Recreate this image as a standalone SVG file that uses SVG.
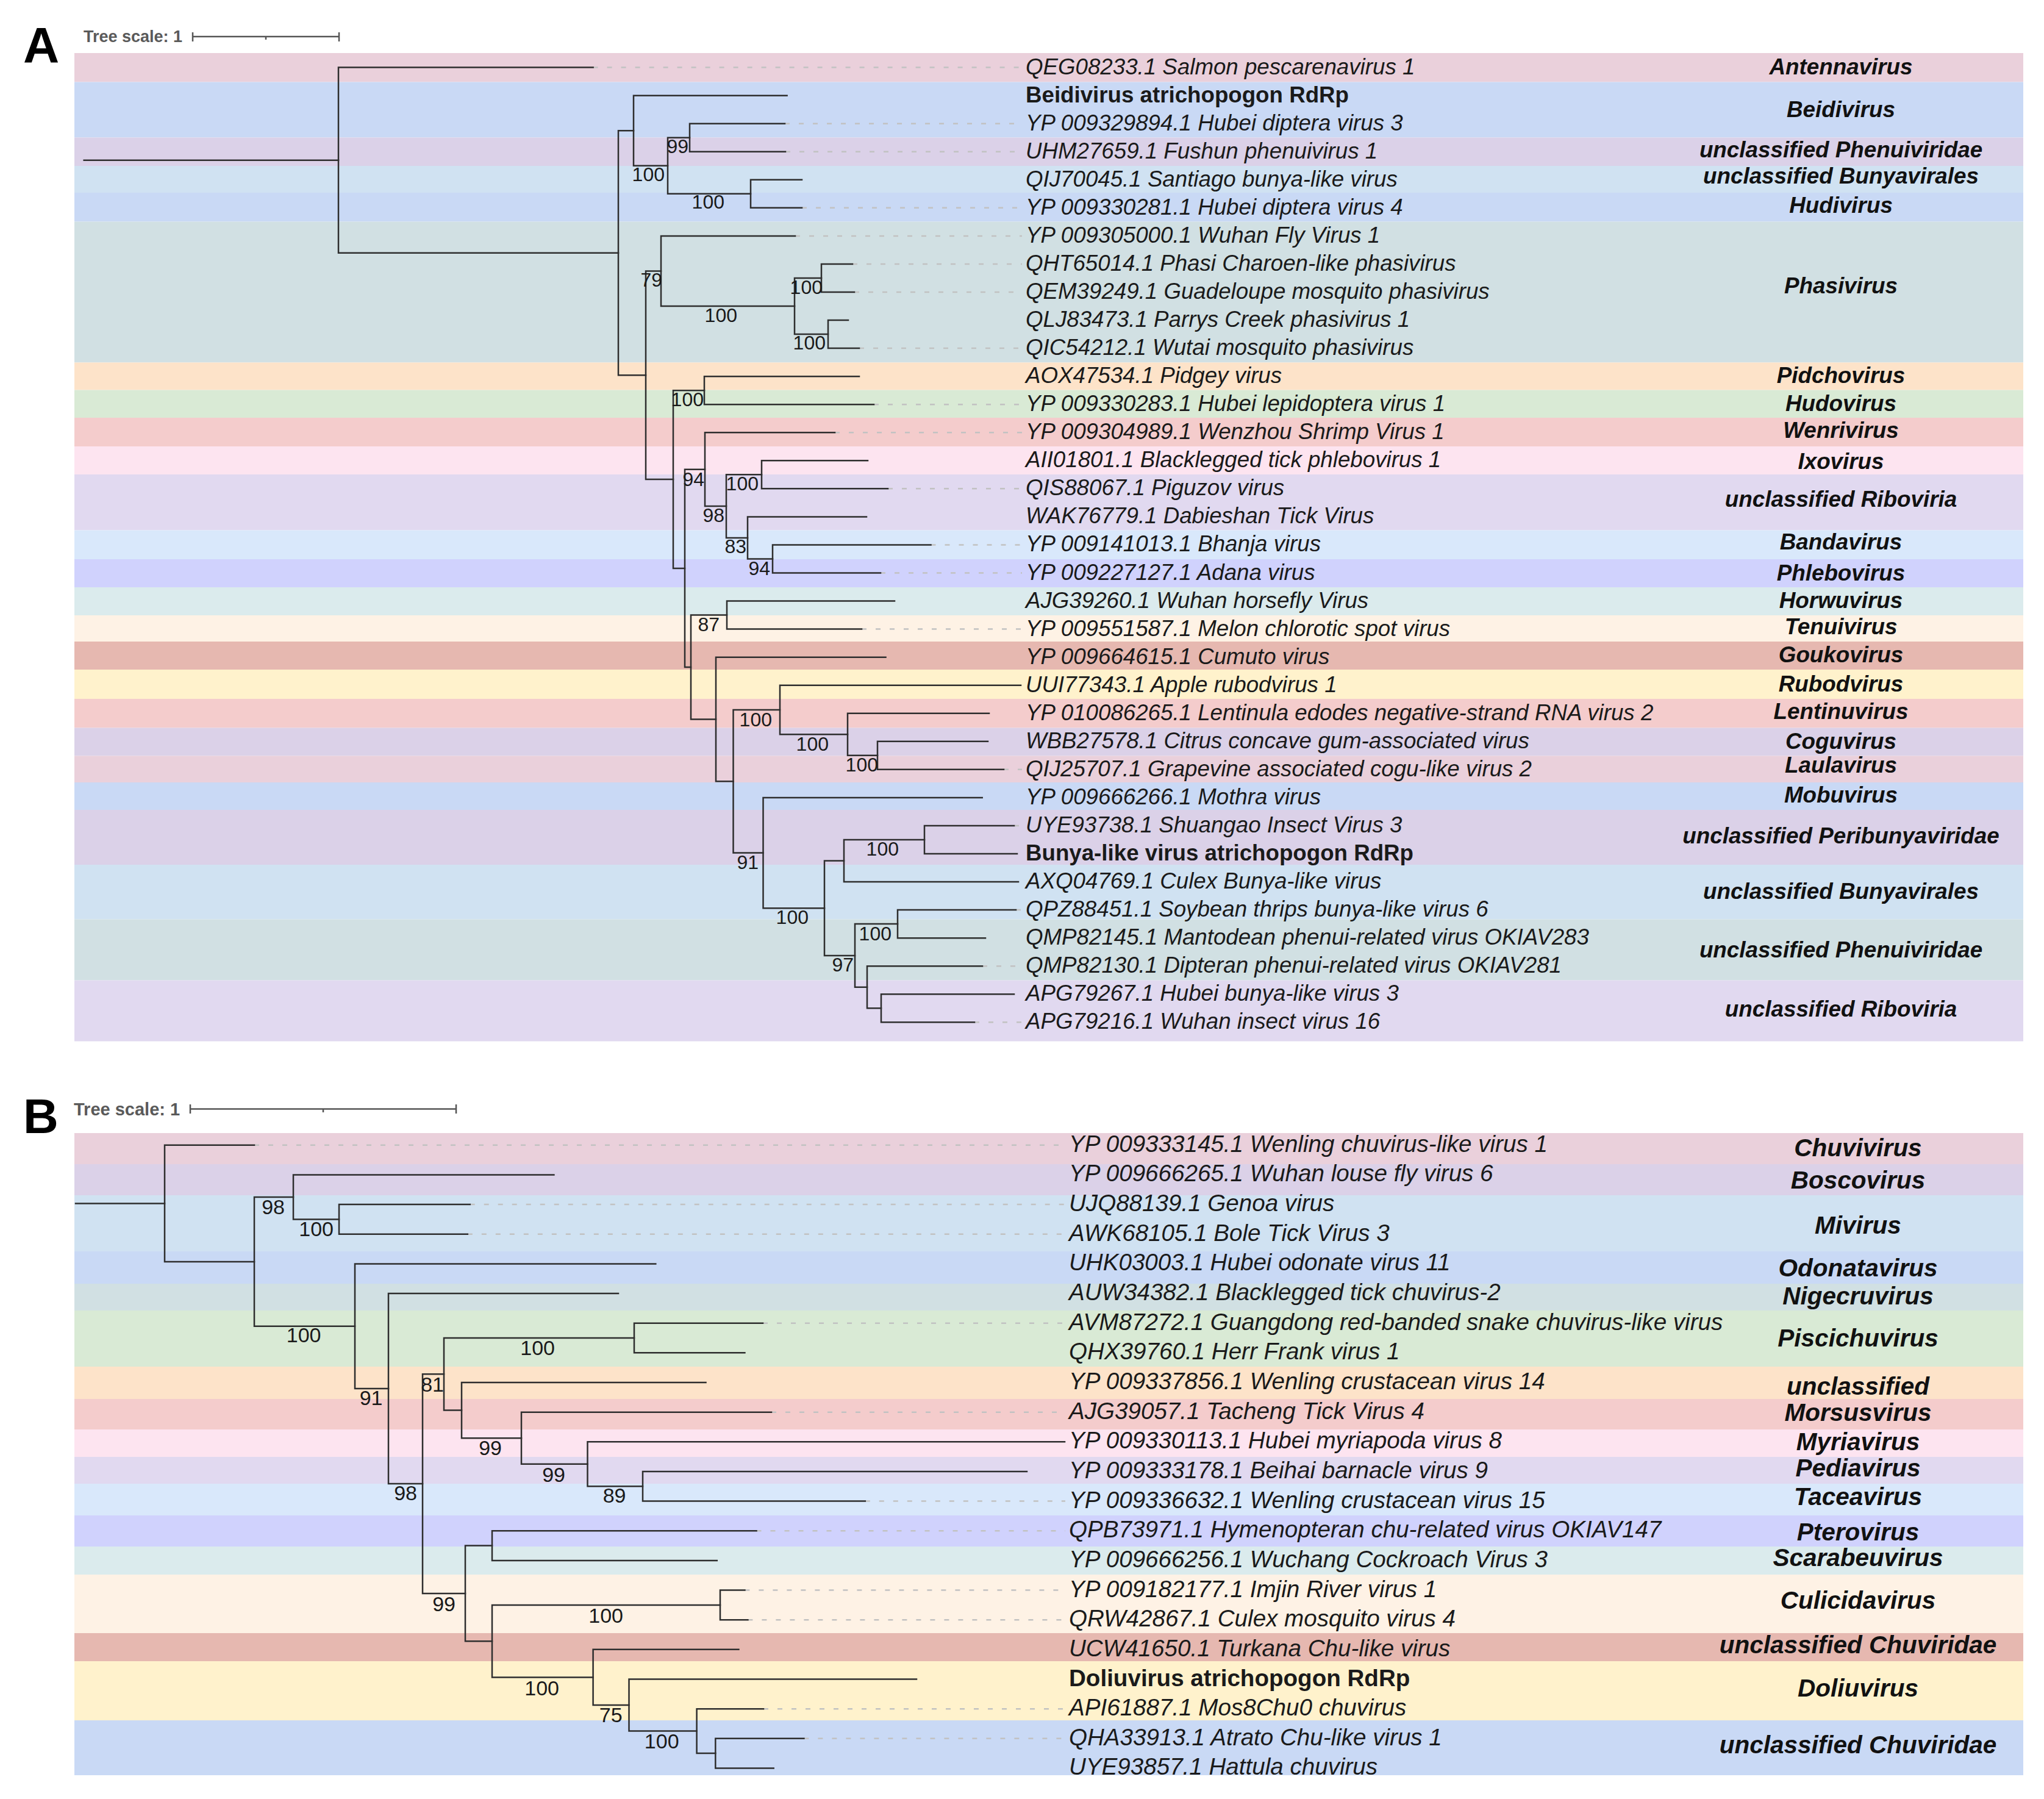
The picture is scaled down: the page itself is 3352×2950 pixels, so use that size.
<svg xmlns="http://www.w3.org/2000/svg" width="3352" height="2950" viewBox="0 0 3352 2950">
<style>
text{font-family:"Liberation Sans",Arial,sans-serif}
.pl{font-weight:bold;fill:#000}
.ts{font-weight:bold;fill:#5a5a5a}
.sb{stroke:#555;stroke-width:2.5;fill:none}
.la{font-style:italic;font-size:36.7px;fill:#1a1a1a}
.lb{font-style:italic;font-size:38.6px;fill:#1a1a1a}
.bd{font-style:normal;font-weight:bold}
.ca{font-style:italic;font-weight:bold;font-size:36.8px;text-anchor:middle;fill:#111}
.cb{font-style:italic;font-weight:bold;font-size:40.5px;text-anchor:middle;fill:#111}
.ba{font-size:32px;text-anchor:end;fill:#1a1a1a}
.bb{font-size:34px;text-anchor:end;fill:#1a1a1a}
.br{stroke:#2e2e2e;stroke-width:2.5;fill:none;stroke-linecap:square}
.ds{stroke:#c2c2c2;stroke-width:2.5;fill:none;stroke-dasharray:8 15}
.pk{fill:#ead0db}.bl{fill:#c9d9f5}.lv{fill:#dbd1e8}.sk{fill:#d0e2f2}.gt{fill:#d1e0e3}.pc{fill:#fde3c9}.gr{fill:#d9ead5}.rs{fill:#f4cccc}.lp{fill:#fde4f0}.lr{fill:#e1d9f0}.lt{fill:#d9e8fb}.pw{fill:#d0d2fd}.tl{fill:#dbebed}.cr{fill:#fef2e5}.sa{fill:#e6b8b0}.yl{fill:#fff2cc}
</style>
<rect width="3352" height="2950" fill="#fff"/>

<!-- ================= PANEL A ================= -->
<g id="A-header">
<text class="pl" x="38" y="102" font-size="82">A</text>
<text class="ts" x="137" y="69" font-size="27">Tree scale: 1</text>
<path class="sb" d="M316,60 H556 M316,53 V68 M556,53 V68 M436,60 V65"/>
</g>
<g id="A-bands">
<rect class="pk" x="122" y="87" width="3196" height="47.5"/>
<rect class="bl" x="122" y="134.5" width="3196" height="91"/>
<rect class="lv" x="122" y="225.5" width="3196" height="46.5"/>
<rect class="sk" x="122" y="272" width="3196" height="44"/>
<rect class="bl" x="122" y="316" width="3196" height="47.5"/>
<rect class="gt" x="122" y="363.5" width="3196" height="231"/>
<rect class="pc" x="122" y="594.5" width="3196" height="45"/>
<rect class="gr" x="122" y="639.5" width="3196" height="45.5"/>
<rect class="rs" x="122" y="685" width="3196" height="47"/>
<rect class="lp" x="122" y="732" width="3196" height="46"/>
<rect class="lr" x="122" y="778" width="3196" height="91.5"/>
<rect class="lt" x="122" y="869.5" width="3196" height="47.5"/>
<rect class="pw" x="122" y="917" width="3196" height="46"/>
<rect class="tl" x="122" y="963" width="3196" height="46"/>
<rect class="cr" x="122" y="1009" width="3196" height="43"/>
<rect class="sa" x="122" y="1052" width="3196" height="46"/>
<rect class="yl" x="122" y="1098" width="3196" height="48"/>
<rect class="rs" x="122" y="1146" width="3196" height="47.5"/>
<rect class="lv" x="122" y="1193.5" width="3196" height="46"/>
<rect class="pk" x="122" y="1239.5" width="3196" height="43.5"/>
<rect class="bl" x="122" y="1283" width="3196" height="45"/>
<rect class="lv" x="122" y="1328" width="3196" height="90"/>
<rect class="sk" x="122" y="1418" width="3196" height="89.5"/>
<rect class="gt" x="122" y="1507.5" width="3196" height="100"/>
<rect class="lr" x="122" y="1607.5" width="3196" height="100"/>
</g>

<g id="A-connectors">
<path class="ds" d="M972.6,110.6 H1676 M1287,202.7 H1676 M1288,248.75 H1676 M1315,340.85 H1676 M1304,386.9 H1676 M1398,432.95 H1676 M1401,479 H1676 M1409,571.1 H1676 M1433,663.2 H1676 M1369,709.25 H1676 M1456,801.35 H1676 M1526.5,893.45 H1676 M1444,939.5 H1676 M1413,1031.6 H1676 M1646,1261.85 H1676 M1663,1353.95 H1676 M1666,1492.1 H1676 M1611,1584.2 H1676 M1598,1676.3 H1676"/>
<g class="br">
<path d="M137.7,262.7 H555"/>
<path d="M555,110.6 V414.7 M555,110.6 H972.6 M555,414.7 H1014"/>
<path d="M1014,214.2 V615.3 M1014,214.2 H1039 M1014,615.3 H1059"/>
<path d="M1039,156.65 V271.8 M1039,156.65 H1290.6 M1039,271.8 H1095"/>
<path d="M1095,225.7 V317.8 M1095,225.7 H1131 M1095,317.8 H1231"/>
<path d="M1131,202.7 V248.75 M1131,202.7 H1287 M1131,248.75 H1288"/>
<path d="M1231,294.8 V340.85 M1231,294.8 H1315 M1231,340.85 H1315"/>
<path d="M1059,444.5 V786 M1059,444.5 H1084 M1059,786 H1104"/>
<path d="M1084,386.9 V502 M1084,386.9 H1304 M1084,502 H1303"/>
<path d="M1303,456 V548.1 M1303,456 H1347 M1303,548.1 H1358"/>
<path d="M1347,432.95 V479 M1347,432.95 H1398 M1347,479 H1401"/>
<path d="M1358,525.05 V571.1 M1358,525.05 H1391 M1358,571.1 H1409"/>
<path d="M1104,640.2 V931.9 M1104,640.2 H1155 M1104,931.9 H1123"/>
<path d="M1155,617.15 V663.2 M1155,617.15 H1409 M1155,663.2 H1433"/>
<path d="M1123,769.7 V1094 M1123,769.7 H1156 M1123,1094 H1133"/>
<path d="M1156,709.25 V830.1 M1156,709.25 H1369 M1156,830.1 H1191"/>
<path d="M1191,778.3 V882 M1191,778.3 H1249 M1191,882 H1226"/>
<path d="M1249,755.3 V801.35 M1249,755.3 H1423 M1249,801.35 H1456"/>
<path d="M1226,847.4 V916.5 M1226,847.4 H1421 M1226,916.5 H1267"/>
<path d="M1267,893.45 V939.5 M1267,893.45 H1526.5 M1267,939.5 H1444"/>
<path d="M1133,1008.6 V1179.5 M1133,1008.6 H1192 M1133,1179.5 H1174"/>
<path d="M1192,985.55 V1031.6 M1192,985.55 H1467 M1192,1031.6 H1413"/>
<path d="M1174,1077.65 V1281.3 M1174,1077.65 H1452.5 M1174,1281.3 H1202.5"/>
<path d="M1202.5,1164 V1398.5 M1202.5,1164 H1279 M1202.5,1398.5 H1251.5"/>
<path d="M1279,1123.7 V1204.3 M1279,1123.7 H1674 M1279,1204.3 H1390"/>
<path d="M1390,1169.75 V1238.8 M1390,1169.75 H1622 M1390,1238.8 H1439"/>
<path d="M1439,1215.8 V1261.85 M1439,1215.8 H1620 M1439,1261.85 H1646"/>
<path d="M1251.5,1307.9 V1489.2 M1251.5,1307.9 H1610.7 M1251.5,1489.2 H1352"/>
<path d="M1352,1411.5 V1566.9 M1352,1411.5 H1384 M1352,1566.9 H1402"/>
<path d="M1384,1377 V1446.05 M1384,1377 H1516 M1384,1446.05 H1670"/>
<path d="M1516,1353.95 V1400 M1516,1353.95 H1663 M1516,1400 H1668"/>
<path d="M1402,1515.1 V1618.7 M1402,1515.1 H1472 M1402,1618.7 H1422"/>
<path d="M1472,1492.1 V1538.15 M1472,1492.1 H1666 M1472,1538.15 H1616"/>
<path d="M1422,1584.2 V1653.3 M1422,1584.2 H1611 M1422,1653.3 H1445"/>
<path d="M1445,1630.25 V1676.3 M1445,1630.25 H1663 M1445,1676.3 H1598"/>
</g>
<g id="A-support">
<text class="ba" x="1129" y="251">99</text>
<text class="ba" x="1090" y="297">100</text>
<text class="ba" x="1188" y="342">100</text>
<text class="ba" x="1086" y="470">79</text>
<text class="ba" x="1209" y="528">100</text>
<text class="ba" x="1349" y="482">100</text>
<text class="ba" x="1354" y="573">100</text>
<text class="ba" x="1154" y="666">100</text>
<text class="ba" x="1155" y="797">94</text>
<text class="ba" x="1188" y="856">98</text>
<text class="ba" x="1244" y="804">100</text>
<text class="ba" x="1224" y="907">83</text>
<text class="ba" x="1263" y="943">94</text>
<text class="ba" x="1180" y="1035">87</text>
<text class="ba" x="1266" y="1191">100</text>
<text class="ba" x="1359" y="1231">100</text>
<text class="ba" x="1440" y="1265">100</text>
<text class="ba" x="1244" y="1425">91</text>
<text class="ba" x="1326" y="1515">100</text>
<text class="ba" x="1474" y="1403">100</text>
<text class="ba" x="1400" y="1593">97</text>
<text class="ba" x="1462" y="1542">100</text>
</g>
</g>

<g id="A-leaves" class="la">
<g id="A-leaf-01"><text x="1682" y="121.6">QEG08233.1 Salmon pescarenavirus 1</text></g>
<g id="A-leaf-02"><text class="bd" x="1682" y="167.65">Beidivirus atrichopogon RdRp</text></g>
<g id="A-leaf-03"><text x="1682" y="213.7">YP 009329894.1 Hubei diptera virus 3</text></g>
<g id="A-leaf-04"><text x="1682" y="259.75">UHM27659.1 Fushun phenuivirus 1</text></g>
<g id="A-leaf-05"><text x="1682" y="305.8">QIJ70045.1 Santiago bunya-like virus</text></g>
<g id="A-leaf-06"><text x="1682" y="351.85">YP 009330281.1 Hubei diptera virus 4</text></g>
<g id="A-leaf-07"><text x="1682" y="397.9">YP 009305000.1 Wuhan Fly Virus 1</text></g>
<g id="A-leaf-08"><text x="1682" y="443.95">QHT65014.1 Phasi Charoen-like phasivirus</text></g>
<g id="A-leaf-09"><text x="1682" y="490">QEM39249.1 Guadeloupe mosquito phasivirus</text></g>
<g id="A-leaf-10"><text x="1682" y="536.05">QLJ83473.1 Parrys Creek phasivirus 1</text></g>
<g id="A-leaf-11"><text x="1682" y="582.1">QIC54212.1 Wutai mosquito phasivirus</text></g>
<g id="A-leaf-12"><text x="1682" y="628.15">AOX47534.1 Pidgey virus</text></g>
<g id="A-leaf-13"><text x="1682" y="674.2">YP 009330283.1 Hubei lepidoptera virus 1</text></g>
<g id="A-leaf-14"><text x="1682" y="720.25">YP 009304989.1 Wenzhou Shrimp Virus 1</text></g>
<g id="A-leaf-15"><text x="1682" y="766.3">AII01801.1 Blacklegged tick phlebovirus 1</text></g>
<g id="A-leaf-16"><text x="1682" y="812.35">QIS88067.1 Piguzov virus</text></g>
<g id="A-leaf-17"><text x="1682" y="858.4">WAK76779.1 Dabieshan Tick Virus</text></g>
<g id="A-leaf-18"><text x="1682" y="904.45">YP 009141013.1 Bhanja virus</text></g>
<g id="A-leaf-19"><text x="1682" y="950.5">YP 009227127.1 Adana virus</text></g>
<g id="A-leaf-20"><text x="1682" y="996.55">AJG39260.1 Wuhan horsefly Virus</text></g>
<g id="A-leaf-21"><text x="1682" y="1042.6">YP 009551587.1 Melon chlorotic spot virus</text></g>
<g id="A-leaf-22"><text x="1682" y="1088.65">YP 009664615.1 Cumuto virus</text></g>
<g id="A-leaf-23"><text x="1682" y="1134.7">UUI77343.1 Apple rubodvirus 1</text></g>
<g id="A-leaf-24"><text x="1682" y="1180.75">YP 010086265.1 Lentinula edodes negative-strand RNA virus 2</text></g>
<g id="A-leaf-25"><text x="1682" y="1226.8">WBB27578.1 Citrus concave gum-associated virus</text></g>
<g id="A-leaf-26"><text x="1682" y="1272.85">QIJ25707.1 Grapevine associated cogu-like virus 2</text></g>
<g id="A-leaf-27"><text x="1682" y="1318.9">YP 009666266.1 Mothra virus</text></g>
<g id="A-leaf-28"><text x="1682" y="1364.95">UYE93738.1 Shuangao Insect Virus 3</text></g>
<g id="A-leaf-29"><text class="bd" x="1682" y="1411">Bunya-like virus atrichopogon RdRp</text></g>
<g id="A-leaf-30"><text x="1682" y="1457.05">AXQ04769.1 Culex Bunya-like virus</text></g>
<g id="A-leaf-31"><text x="1682" y="1503.1">QPZ88451.1 Soybean thrips bunya-like virus 6</text></g>
<g id="A-leaf-32"><text x="1682" y="1549.15">QMP82145.1 Mantodean phenui-related virus OKIAV283</text></g>
<g id="A-leaf-33"><text x="1682" y="1595.2">QMP82130.1 Dipteran phenui-related virus OKIAV281</text></g>
<g id="A-leaf-34"><text x="1682" y="1641.25">APG79267.1 Hubei bunya-like virus 3</text></g>
<g id="A-leaf-35"><text x="1682" y="1687.3">APG79216.1 Wuhan insect virus 16</text></g>
</g>

<g id="A-categories" class="ca">
<g id="A-cat-01"><text x="3019" y="122">Antennavirus</text></g>
<g id="A-cat-02"><text x="3019" y="192">Beidivirus</text></g>
<g id="A-cat-03"><text x="3019" y="258">unclassified Phenuiviridae</text></g>
<g id="A-cat-04"><text x="3019" y="301">unclassified Bunyavirales</text></g>
<g id="A-cat-05"><text x="3019" y="349">Hudivirus</text></g>
<g id="A-cat-06"><text x="3019" y="481">Phasivirus</text></g>
<g id="A-cat-07"><text x="3019" y="628">Pidchovirus</text></g>
<g id="A-cat-08"><text x="3019" y="674">Hudovirus</text></g>
<g id="A-cat-09"><text x="3019" y="718">Wenrivirus</text></g>
<g id="A-cat-10"><text x="3019" y="769">Ixovirus</text></g>
<g id="A-cat-11"><text x="3019" y="831">unclassified Riboviria</text></g>
<g id="A-cat-12"><text x="3019" y="901">Bandavirus</text></g>
<g id="A-cat-13"><text x="3019" y="952">Phlebovirus</text></g>
<g id="A-cat-14"><text x="3019" y="997">Horwuvirus</text></g>
<g id="A-cat-15"><text x="3019" y="1040">Tenuivirus</text></g>
<g id="A-cat-16"><text x="3019" y="1086">Goukovirus</text></g>
<g id="A-cat-17"><text x="3019" y="1134">Rubodvirus</text></g>
<g id="A-cat-18"><text x="3019" y="1179">Lentinuvirus</text></g>
<g id="A-cat-19"><text x="3019" y="1228">Coguvirus</text></g>
<g id="A-cat-20"><text x="3019" y="1267">Laulavirus</text></g>
<g id="A-cat-21"><text x="3019" y="1316">Mobuvirus</text></g>
<g id="A-cat-22"><text x="3019" y="1383">unclassified Peribunyaviridae</text></g>
<g id="A-cat-23"><text x="3019" y="1474">unclassified Bunyavirales</text></g>
<g id="A-cat-24"><text x="3019" y="1570">unclassified Phenuiviridae</text></g>
<g id="A-cat-25"><text x="3019" y="1667">unclassified Riboviria</text></g>
</g>

<!-- ================= PANEL B ================= -->
<g id="B-header">
<text class="pl" x="38" y="1858" font-size="80">B</text>
<text class="ts" x="121" y="1829" font-size="29">Tree scale: 1</text>
<path class="sb" d="M312,1818.5 H748 M312,1811 V1826 M748,1811 V1826 M530,1818.5 V1824"/>
</g>
<g id="B-bands">
<rect class="pk" x="122" y="1858" width="3196" height="51"/>
<rect class="lv" x="122" y="1909" width="3196" height="51"/>
<rect class="sk" x="122" y="1960" width="3196" height="92"/>
<rect class="bl" x="122" y="2052" width="3196" height="53"/>
<rect class="gt" x="122" y="2105" width="3196" height="44"/>
<rect class="gr" x="122" y="2149" width="3196" height="92"/>
<rect class="pc" x="122" y="2241" width="3196" height="53"/>
<rect class="rs" x="122" y="2294" width="3196" height="50"/>
<rect class="lp" x="122" y="2344" width="3196" height="45"/>
<rect class="lr" x="122" y="2389" width="3196" height="44"/>
<rect class="lt" x="122" y="2433" width="3196" height="52"/>
<rect class="pw" x="122" y="2485" width="3196" height="51"/>
<rect class="tl" x="122" y="2536" width="3196" height="46"/>
<rect class="cr" x="122" y="2582" width="3196" height="96"/>
<rect class="sa" x="122" y="2678" width="3196" height="46"/>
<rect class="yl" x="122" y="2724" width="3196" height="97"/>
<rect class="bl" x="122" y="2821" width="3196" height="90"/>
</g>

<g id="B-connectors">
<path class="ds" d="M417,1877.8 H1747 M770.7,1975.1 H1747 M766.8,2023.75 H1747 M1251,2169.7 H1747 M1265,2315.65 H1747 M1418.8,2461.6 H1747 M1240.5,2510.25 H1747 M1221.4,2607.55 H1747 M1226.4,2656.2 H1747 M1252,2802.15 H1747 M1318.4,2850.8 H1747"/>
<g class="br">
<path d="M124,1973.4 H270"/>
<path d="M270,1877.8 V2068.9 M270,1877.8 H417 M270,2068.9 H417"/>
<path d="M417,1962.9 V2174.8 M417,1962.9 H481 M417,2174.8 H582"/>
<path d="M481,1926.45 V1999.4 M481,1926.45 H908.4 M481,1999.4 H556"/>
<path d="M556,1975.1 V2023.75 M556,1975.1 H770.7 M556,2023.75 H766.8"/>
<path d="M582,2072.4 V2277.1 M582,2072.4 H1075.3 M582,2277.1 H637"/>
<path d="M637,2121.05 V2433.1 M637,2121.05 H1014 M637,2433.1 H693"/>
<path d="M693,2253.3 V2612.9 M693,2253.3 H728 M693,2612.9 H763"/>
<path d="M728,2194 V2312.6 M728,2194 H1040 M728,2312.6 H757"/>
<path d="M1040,2169.7 V2218.35 M1040,2169.7 H1251 M1040,2218.35 H1221.4"/>
<path d="M757,2267 V2358.2 M757,2267 H1157.5 M757,2358.2 H855"/>
<path d="M855,2315.65 V2400.8 M855,2315.65 H1265 M855,2400.8 H963.5"/>
<path d="M963.5,2364.3 V2437.3 M963.5,2364.3 H1746 M963.5,2437.3 H1054"/>
<path d="M1054,2412.95 V2461.6 M1054,2412.95 H1684 M1054,2461.6 H1418.8"/>
<path d="M763,2534.6 V2691.2 M763,2534.6 H807 M763,2691.2 H807"/>
<path d="M807,2510.25 V2558.9 M807,2510.25 H1240.5 M807,2558.9 H1175.8"/>
<path d="M807,2631.9 V2750.5 M807,2631.9 H1181 M807,2750.5 H972.6"/>
<path d="M1181,2607.55 V2656.2 M1181,2607.55 H1221.4 M1181,2656.2 H1226.4"/>
<path d="M972.6,2704.85 V2796.1 M972.6,2704.85 H1211.4 M972.6,2796.1 H1031.5"/>
<path d="M1031.5,2753.5 V2838.6 M1031.5,2753.5 H1503 M1031.5,2838.6 H1142.6"/>
<path d="M1142.6,2802.15 V2875.1 M1142.6,2802.15 H1252 M1142.6,2875.1 H1173.3"/>
<path d="M1173.3,2850.8 V2899.45 M1173.3,2850.8 H1318.4 M1173.3,2899.45 H1268.7"/>
</g>
<g id="B-support">
<text class="bb" x="467" y="1991">98</text>
<text class="bb" x="547" y="2027">100</text>
<text class="bb" x="526.5" y="2201">100</text>
<text class="bb" x="627.5" y="2304">91</text>
<text class="bb" x="910" y="2222">100</text>
<text class="bb" x="728" y="2281.6">81</text>
<text class="bb" x="823" y="2386">99</text>
<text class="bb" x="684" y="2460">98</text>
<text class="bb" x="927" y="2429.5">99</text>
<text class="bb" x="1026.5" y="2464">89</text>
<text class="bb" x="747" y="2642">99</text>
<text class="bb" x="1022" y="2661">100</text>
<text class="bb" x="917" y="2780">100</text>
<text class="bb" x="1020.7" y="2823.6">75</text>
<text class="bb" x="1113.6" y="2867">100</text>
</g>
</g>

<g id="B-leaves" class="lb">
<g id="B-leaf-01"><text x="1753" y="1888.8">YP 009333145.1 Wenling chuvirus-like virus 1</text></g>
<g id="B-leaf-02"><text x="1753" y="1937.45">YP 009666265.1 Wuhan louse fly virus 6</text></g>
<g id="B-leaf-03"><text x="1753" y="1986.1">UJQ88139.1 Genoa virus</text></g>
<g id="B-leaf-04"><text x="1753" y="2034.75">AWK68105.1 Bole Tick Virus 3</text></g>
<g id="B-leaf-05"><text x="1753" y="2083.4">UHK03003.1 Hubei odonate virus 11</text></g>
<g id="B-leaf-06"><text x="1753" y="2132.05">AUW34382.1 Blacklegged tick chuvirus-2</text></g>
<g id="B-leaf-07"><text x="1753" y="2180.7">AVM87272.1 Guangdong red-banded snake chuvirus-like virus</text></g>
<g id="B-leaf-08"><text x="1753" y="2229.35">QHX39760.1 Herr Frank virus 1</text></g>
<g id="B-leaf-09"><text x="1753" y="2278">YP 009337856.1 Wenling crustacean virus 14</text></g>
<g id="B-leaf-10"><text x="1753" y="2326.65">AJG39057.1 Tacheng Tick Virus 4</text></g>
<g id="B-leaf-11"><text x="1753" y="2375.3">YP 009330113.1 Hubei myriapoda virus 8</text></g>
<g id="B-leaf-12"><text x="1753" y="2423.95">YP 009333178.1 Beihai barnacle virus 9</text></g>
<g id="B-leaf-13"><text x="1753" y="2472.6">YP 009336632.1 Wenling crustacean virus 15</text></g>
<g id="B-leaf-14"><text x="1753" y="2521.25">QPB73971.1 Hymenopteran chu-related virus OKIAV147</text></g>
<g id="B-leaf-15"><text x="1753" y="2569.9">YP 009666256.1 Wuchang Cockroach Virus 3</text></g>
<g id="B-leaf-16"><text x="1753" y="2618.55">YP 009182177.1 Imjin River virus 1</text></g>
<g id="B-leaf-17"><text x="1753" y="2667.2">QRW42867.1 Culex mosquito virus 4</text></g>
<g id="B-leaf-18"><text x="1753" y="2715.85">UCW41650.1 Turkana Chu-like virus</text></g>
<g id="B-leaf-19"><text class="bd" x="1753" y="2764.5">Doliuvirus atrichopogon RdRp</text></g>
<g id="B-leaf-20"><text x="1753" y="2813.15">API61887.1 Mos8Chu0 chuvirus</text></g>
<g id="B-leaf-21"><text x="1753" y="2861.8">QHA33913.1 Atrato Chu-like virus 1</text></g>
<g id="B-leaf-22"><text x="1753" y="2910.45">UYE93857.1 Hattula chuvirus</text></g>
</g>

<g id="B-categories" class="cb">
<g id="B-cat-01"><text x="3047" y="1896">Chuvivirus</text></g>
<g id="B-cat-02"><text x="3047" y="1949">Boscovirus</text></g>
<g id="B-cat-03"><text x="3047" y="2023">Mivirus</text></g>
<g id="B-cat-04"><text x="3047" y="2093">Odonatavirus</text></g>
<g id="B-cat-05"><text x="3047" y="2139">Nigecruvirus</text></g>
<g id="B-cat-06"><text x="3047" y="2208">Piscichuvirus</text></g>
<g id="B-cat-07"><text x="3047" y="2287">unclassified</text></g>
<g id="B-cat-08"><text x="3047" y="2330">Morsusvirus</text></g>
<g id="B-cat-09"><text x="3047" y="2378">Myriavirus</text></g>
<g id="B-cat-10"><text x="3047" y="2421">Pediavirus</text></g>
<g id="B-cat-11"><text x="3047" y="2468">Taceavirus</text></g>
<g id="B-cat-12"><text x="3047" y="2526">Pterovirus</text></g>
<g id="B-cat-13"><text x="3047" y="2568">Scarabeuvirus</text></g>
<g id="B-cat-14"><text x="3047" y="2638">Culicidavirus</text></g>
<g id="B-cat-15"><text x="3047" y="2711">unclassified Chuviridae</text></g>
<g id="B-cat-16"><text x="3047" y="2782">Doliuvirus</text></g>
<g id="B-cat-17"><text x="3047" y="2875">unclassified Chuviridae</text></g>
</g>
</svg>
